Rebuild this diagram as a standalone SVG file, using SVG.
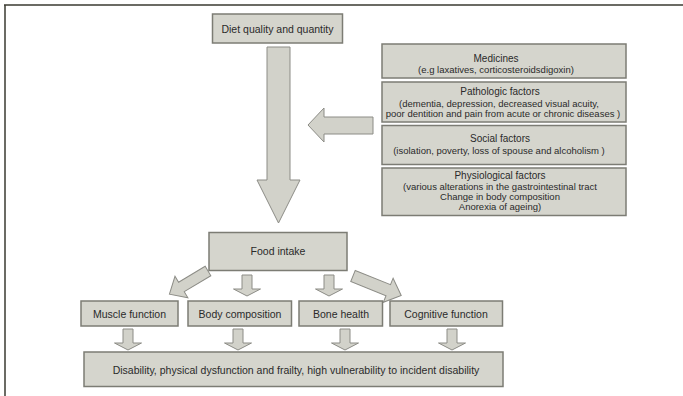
<svg xmlns="http://www.w3.org/2000/svg" width="683" height="396" viewBox="0 0 683 396">
<style>
.box{fill:#d5d5cd;stroke:#7c7c74;stroke-width:1.5}
.arr{fill:#d2d2ca;stroke:#8c8c86;stroke-width:1}
text{font-family:"Liberation Sans",Arial,sans-serif;fill:#2a2a2a;text-anchor:middle}
.t{font-size:10.5px}
.h{font-size:10px}
.s{font-size:9.5px}
</style>
<defs>
<polygon id="sdown" points="-5,0 5,0 5,14 13.5,14 0,21 -13.5,14 -5,14"/>
</defs>
<rect width="683" height="396" fill="#ffffff"/>
<g id="frame" fill="none" stroke="#3a3a30" stroke-width="1.5">
<line x1="4" y1="5" x2="683" y2="5"/>
<line x1="5" y1="5" x2="5" y2="396"/>
</g>
<g id="connectors">
<polygon class="arr" points="267,47 290,47 290,180 300,180 278.5,223 257,180 267,180"/>
<polygon class="arr" points="373,117 324,117 324,108 308,125 324,142 324,134 373,134"/>
<polygon class="arr" transform="translate(208,271) rotate(149)" points="0,-5.5 31,-5.5 31,-12.5 45,0 31,12.5 31,5.5 0,5.5"/>
<polygon class="arr" transform="translate(353,276) rotate(22)" points="0,-6 38,-6 38,-13 52,0 38,13 38,6 0,6"/>
<use href="#sdown" class="arr" x="247" y="275"/>
<use href="#sdown" class="arr" x="329" y="275"/>
<use href="#sdown" class="arr" x="128" y="329"/>
<use href="#sdown" class="arr" x="238" y="329"/>
<use href="#sdown" class="arr" x="345" y="329"/>
<use href="#sdown" class="arr" x="452" y="329"/>
</g>
<g id="diet">
<rect class="box" x="212.5" y="14" width="130" height="29"/>
<text class="t" x="277.5" y="33">Diet quality and quantity</text>
</g>
<g id="medicines">
<rect class="box" x="382" y="44" width="244" height="34"/>
<text class="h" x="496" y="61.5">Medicines</text>
<text class="s" x="496" y="73">(e.g laxatives, corticosteroidsdigoxin)</text>
</g>
<g id="pathologic">
<rect class="box" x="382" y="82" width="244" height="40"/>
<text class="h" x="500" y="94.5">Pathologic factors</text>
<text class="s" x="499" y="106.5">(dementia, depression, decreased visual acuity,</text>
<text class="s" x="503" y="116.5">poor dentition and pain from acute or chronic diseases )</text>
</g>
<g id="social">
<rect class="box" x="382" y="125.5" width="244" height="39"/>
<text class="h" x="500" y="142">Social factors</text>
<text class="s" x="499" y="154">(isolation, poverty, loss of spouse and alcoholism )</text>
</g>
<g id="physiological">
<rect class="box" x="382" y="168" width="244" height="47.5"/>
<text class="h" x="500" y="179">Physiological factors</text>
<text class="s" x="500" y="190">(various alterations in the gastrointestinal tract</text>
<text class="s" x="500" y="200">Change in body composition</text>
<text class="s" x="500" y="210">Anorexia of ageing)</text>
</g>
<g id="food">
<rect class="box" x="209" y="232.5" width="138" height="38"/>
<text class="t" x="278" y="255">Food intake</text>
</g>
<g id="muscle">
<rect class="box" x="81" y="301" width="97" height="25"/>
<text class="t" x="129.5" y="318">Muscle function</text>
</g>
<g id="body">
<rect class="box" x="188" y="301" width="103.5" height="25"/>
<text class="t" x="240" y="318">Body composition</text>
</g>
<g id="bone">
<rect class="box" x="299" y="301" width="83.5" height="25"/>
<text class="t" x="341" y="318">Bone health</text>
</g>
<g id="cognitive">
<rect class="box" x="390" y="301" width="112.5" height="25"/>
<text class="t" x="446" y="318">Cognitive function</text>
</g>
<g id="disability">
<rect class="box" x="84" y="352" width="419" height="34.5"/>
<text class="t" x="296" y="374">Disability, physical dysfunction and frailty, high vulnerability to incident disability</text>
</g>
</svg>
